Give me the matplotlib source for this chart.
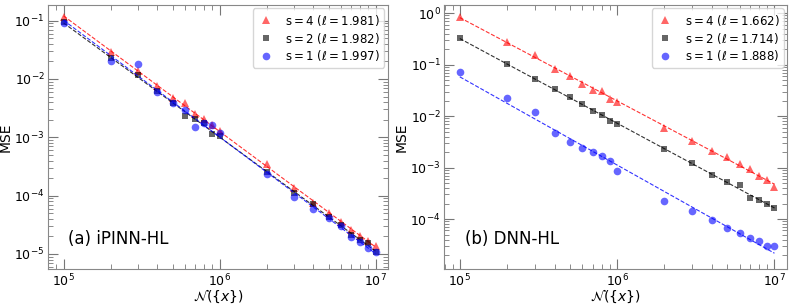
import numpy as np
import matplotlib
matplotlib.use("Agg")
import matplotlib.pyplot as plt

# numero de puntos de colocacion
n_pts = np.array([1e5, 2e5, 3e5, 4e5, 5e5, 6e5, 7e5, 8e5, 9e5,
                  1e6, 2e6, 3e6, 4e6, 5e6, 6e6, 7e6, 8e6, 9e6, 1e7])

# (a) iPINN-HL
mse_a_s4 = [0.117, 0.0294, 0.0137, 0.0076, 0.0048, 0.0038, 0.0025, 0.0021, 0.00163, 0.00128,
            3.45e-4, 1.34e-4, 7.6e-5, 5.0e-5, 3.5e-5, 2.6e-5, 2.0e-5, 1.7e-5, 1.39e-5]
mse_a_s2 = [0.094, 0.0226, 0.0117, 0.0063, 0.0039, 0.0023, 0.00204, 0.00174, 0.00112, 0.00105,
            2.58e-4, 1.12e-4, 7.2e-5, 4.25e-5, 3.1e-5, 2.09e-5, 1.74e-5, 1.52e-5, 1.1e-5]
mse_a_s1 = [0.090, 0.0204, 0.0178, 0.0061, 0.0039, 0.0029, 0.00152, 0.00174, 0.00163, 0.00117,
            2.35e-4, 9.4e-5, 5.8e-5, 4.1e-5, 3.0e-5, 1.98e-5, 1.63e-5, 1.25e-5, 1.07e-5]
ell_a = [1.981, 1.982, 1.997]

# (b) DNN-HL
mse_b_s4 = [0.86, 0.28, 0.155, 0.082, 0.059, 0.042, 0.032, 0.031, 0.0214, 0.0187,
            0.0060, 0.0033, 0.00206, 0.00158, 0.00117, 0.00094, 0.00069, 0.00058, 0.00042]
mse_b_s2 = [0.327, 0.102, 0.053, 0.0334, 0.023, 0.0174, 0.0123, 0.0106, 0.0081, 0.0071,
            0.0023, 0.00122, 0.00073, 0.00052, 0.00045, 0.00026, 0.00023, 0.0002, 0.000164]
mse_b_s1 = [0.0705, 0.0224, 0.0118, 0.0047, 0.0031, 0.0024, 0.00197, 0.00165, 0.00136, 0.00084,
            2.27e-4, 1.45e-4, 9.4e-5, 6.7e-5, 5.4e-5, 4.3e-5, 3.8e-5, 2.95e-5, 2.95e-5]
ell_b = [1.662, 1.714, 1.888]

s_vals = [4, 2, 1]
colores = ["red", "black", "blue"]
marcas = ["^", "s", "o"]
tamanos = [5.5, 4.5, 5.5]


def panel(ax, series, ells, texto, ylim):
    """Dibuja un panel log-log con ajuste lineal"""
    for mse, ell, s, c, m, ms in zip(series, ells, s_vals, colores, marcas, tamanos):
        mse = np.array(mse)
        ax.plot(n_pts, mse, linestyle="none", marker=m, color=c, alpha=0.6, markersize=ms,
                markeredgewidth=0, label=r"$\mathrm{s}=%d$ ($\ell=%.3f$)" % (s, ell))
        p = np.polyfit(np.log10(n_pts), np.log10(mse), 1)
        ax.plot(n_pts, 10 ** np.polyval(p, np.log10(n_pts)), "--", color=c, lw=0.8, alpha=0.8)
    ax.set_xscale("log")
    ax.set_yscale("log")
    ax.set_xlim(10 ** 4.9, 10 ** 7.08)
    ax.set_ylim(*ylim)
    ax.set_xlabel(r"$\mathcal{N}(\{x\})$", fontsize=10, labelpad=-1)
    ax.set_ylabel("MSE", fontsize=10, labelpad=1)
    ax.tick_params(which="both", direction="in", top=True, right=True, colors="#777777",
                   labelcolor="black", labelsize=9, pad=2.5)
    ax.tick_params(which="major", length=7)
    ax.tick_params(which="minor", length=3.5)
    for sp in ax.spines.values():
        sp.set_color("#888888")
    ax.text(0.06, 0.115, texto, transform=ax.transAxes, fontsize=12, va="center")
    leg = ax.legend(loc="upper right", fontsize=8.5, handlelength=1.5, handletextpad=0.9,
                    borderaxespad=0.3, labelspacing=0.25, borderpad=0.35)
    leg.get_frame().set_edgecolor("#cccccc")


fig = plt.figure(figsize=(7.93, 3.06), dpi=100)
ax1 = fig.add_axes([0.0605, 0.121, 0.4288, 0.863])
ax2 = fig.add_axes([0.560, 0.121, 0.4325, 0.863])

panel(ax1, [mse_a_s4, mse_a_s2, mse_a_s1], ell_a, "(a) iPINN-HL", (10 ** -5.257, 10 ** -0.73))
panel(ax2, [mse_b_s4, mse_b_s2, mse_b_s1], ell_b, "(b) DNN-HL", (10 ** -4.97, 10 ** 0.16))

fig.savefig("out.png", dpi=100)
